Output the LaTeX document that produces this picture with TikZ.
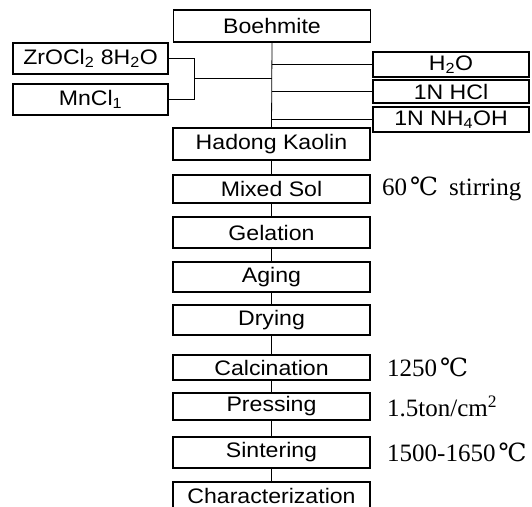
\documentclass[tikz,border=0pt]{standalone}
\usepackage{fontspec}
\setmainfont{Liberation Serif}
\newfontfamily\boxfont[FakeStretch=1.1]{Liberation Sans}
\newfontfamily\degfont{DejaVu Serif}
\newcommand\degC{\hspace{3pt}{\degfont ℃}}
\begin{document}
\begin{tikzpicture}[x=1pt,y=-1pt,
  box/.style={draw, line width=1.2pt, minimum width=197pt, inner sep=0pt,
    font=\boxfont\fontsize{21}{24}\selectfont},
  sidebox/.style={box, minimum width=155pt},
  note/.style={anchor=west, inner sep=0pt, font=\fontsize{25}{29}\selectfont},
  link/.style={line width=0.8pt}]
\useasboundingbox (0,0) rectangle (532,506);
\clip (0,0) rectangle (532,506);
% main column
\node[box, minimum height=32pt] (boe) at (272,26) {Boehmite};
\node[box, minimum height=32pt] (had) at (271.5,144) {Hadong Kaolin};
\node[box, minimum height=28pt] (mix) at (271.5,189) {Mixed Sol};
\node[box, minimum height=31pt] (gel) at (271.5,232.5) {Gelation};
\node[box, minimum height=30pt] (agi) at (271.5,277) {Aging};
\node[box, minimum height=30pt] (dry) at (271.5,320) {Drying};
\node[box, minimum height=25pt] (cal) at (271.5,367.5) {Calcination};
\node[box, minimum height=27pt] (pre) at (271.5,406.5) {Pressing};
\node[box, minimum height=31pt] (sin) at (271.5,452.5) {Sintering};
\node[box, minimum height=28pt] (cha) at (271.5,496) {Characterization};
% left inputs
\node[sidebox, minimum height=31pt] (zr) at (90.5,58.5) {ZrOCl\textsubscript{2} 8H\textsubscript{2}O};
\node[sidebox, minimum height=31pt] (mn) at (90.5,99.5) {MnCl\textsubscript{1}};
% right inputs
\node[sidebox, minimum width=156pt, minimum height=25pt] (h2o) at (451,64.5) {H\textsubscript{2}O};
\node[sidebox, minimum width=156pt, minimum height=23pt] (hcl) at (451,91.5) {1N HCl};
\node[sidebox, minimum width=156pt, minimum height=25pt] (nh) at (451,119.5) {1N NH\textsubscript{4}OH};
% notes
\node[note] (n1) at (382,189) {60\degC\hspace{11pt}stirring};
\node[note] (n2) at (387,367.5) {1250\degC};
\node[note] (n3) at (387,406.5) {1.5ton/cm\textsuperscript{2}};
\node[note] (n4) at (387,452.5) {1500-1650\degC};
% connectors
\coordinate (j) at (194,78.5);
\coordinate (m) at (boe.south |- j);
\draw[link] (boe.south) -- (had.north);
\draw[link] (zr.east) -| (j);
\draw[link] (mn.east) -| (j);
\draw[link] (j) -- (m);
\draw[link] (h2o.west) -- (h2o.west -| boe.south);
\draw[link] (hcl.west) -- (hcl.west -| boe.south);
\draw[link] (nh.west) -- (nh.west -| boe.south);
\draw[link] (had) -- (mix);
\draw[link] (mix) -- (gel);
\draw[link] (gel) -- (agi);
\draw[link] (agi) -- (dry);
\draw[link] (dry) -- (cal);
\draw[link] (cal) -- (pre);
\draw[link] (pre) -- (sin);
\draw[link] (sin) -- (cha);
\end{tikzpicture}
\end{document}
